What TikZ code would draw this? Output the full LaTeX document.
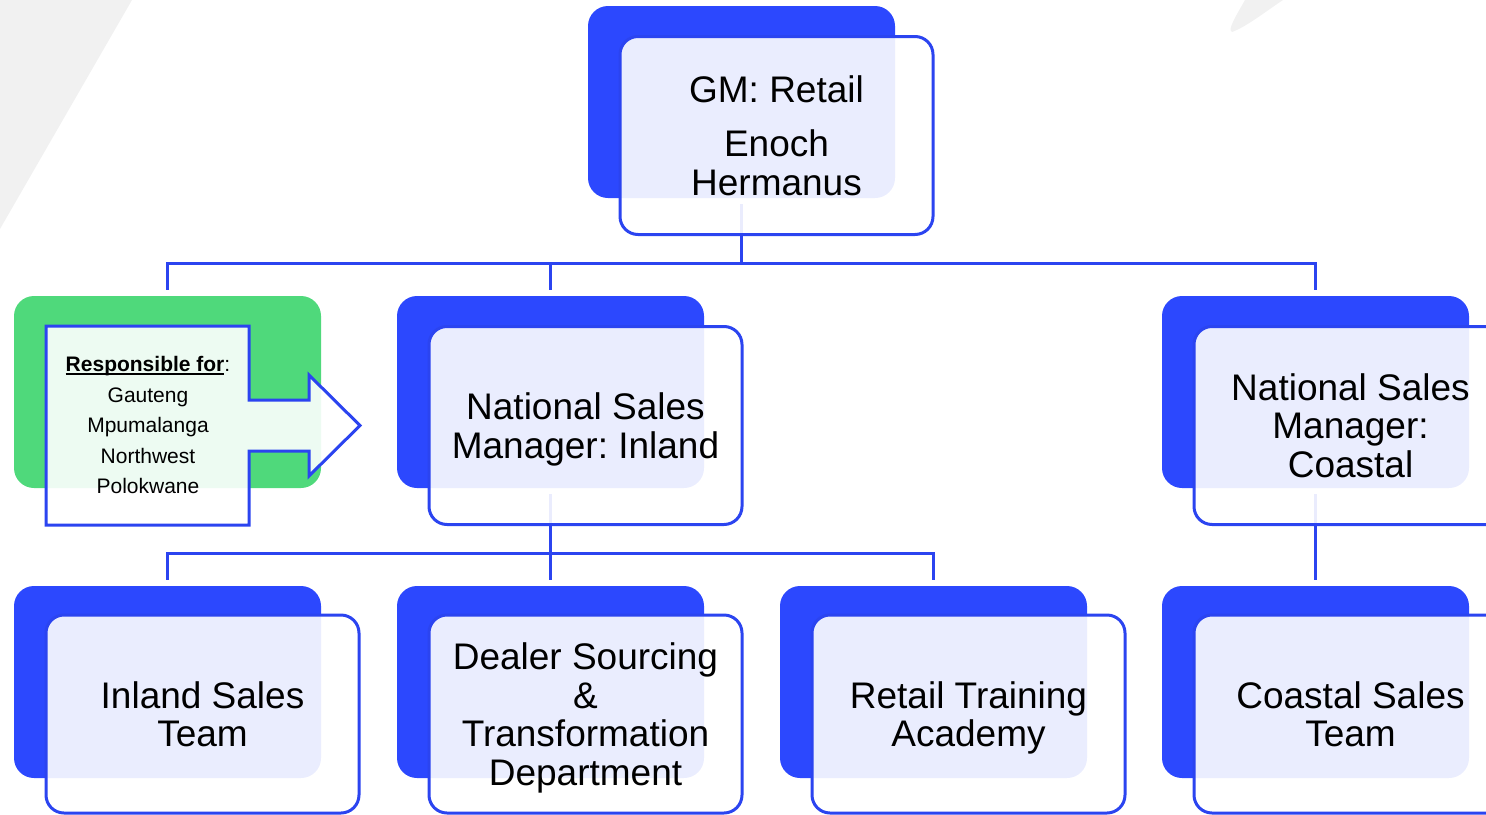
\documentclass[tikz,border=0pt]{standalone}
\usepackage{fontspec}
\setmainfont{Liberation Sans}
\frenchspacing
\definecolor{bblue}{HTML}{2C48FE}
\definecolor{lblue}{HTML}{2B44F0}
\definecolor{bgreen}{HTML}{4FD97B}
\definecolor{bggray}{HTML}{F1F1F1}
\newcommand\myul[1]{\setbox0\hbox{#1}\rlap{\rule[-3pt]{\wd0}{1.8pt}}\box0}
\tikzset{
  backbox/.style={rectangle, rounded corners=20pt, fill=bblue, minimum width=307pt, minimum height=192pt, inner sep=0pt},
  frontbox/.style={rectangle, rounded corners=18pt, draw=lblue, line width=3pt, fill=white, fill opacity=0.9, draw opacity=1, text opacity=1, minimum width=313pt, minimum height=198pt, align=center, inner sep=0pt, text depth=0pt, font=\fontsize{37}{38.5}\selectfont\frenchspacing},
  conn/.style={draw=lblue, line width=3pt, shorten <=6pt, shorten >=6pt},
  callout/.style={draw=lblue, line width=3pt, fill=white, fill opacity=0.9, draw opacity=1},
}
\begin{document}
\begin{tikzpicture}[x=1pt,y=-1pt]
\useasboundingbox (0,0) rectangle (1486,814);
\clip (0,0) rectangle (1486,814);
% background decoration
\fill[bggray] (0,0) -- (132,0) -- (0,229) -- cycle;
\fill[bggray] (1245,0) .. controls (1236,16) and (1227,30) .. (1232,32) .. controls (1246,27) and (1265,12) .. (1283,0) -- cycle;
% back boxes
\node[backbox] (gmb) at (741.5,102) {};
\node[backbox, fill=bgreen] (greenb) at (167.5,392) {};
\node[backbox] (nsmib) at (550.5,392) {};
\node[backbox] (nsmcb) at (1315.5,392) {};
\node[backbox] (inlandb) at (167.5,682) {};
\node[backbox] (dealerb) at (550.5,682) {};
\node[backbox] (trainb) at (933.5,682) {};
\node[backbox] (coastalb) at (1315.5,682) {};
% bus coordinates
\coordinate (bus1) at (741.5,263);
\coordinate (bus2) at (550.5,553);
% connectors
\draw[conn] (gmb.south) -- (gmb.south |- bus1) -| (greenb.north);
\draw[conn] (gmb.south) -- (gmb.south |- bus1) -| (nsmib.north);
\draw[conn] (gmb.south) -- (gmb.south |- bus1) -| (nsmcb.north);
\draw[conn] (nsmib.south) -- (nsmib.south |- bus2) -| (inlandb.north);
\draw[conn] (nsmib.south) -- (nsmib.south |- bus2) -| (dealerb.north);
\draw[conn] (nsmib.south) -- (nsmib.south |- bus2) -| (trainb.north);
\draw[conn] (nsmcb.south) -- (coastalb.north);
% front boxes
\node[frontbox] (gm) at (776.5,135.5) {GM: Retail\\[16pt]Enoch\\Hermanus};
\node[frontbox] (nsmi) at (585.5,425.5) {National Sales\\Manager: Inland};
\node[frontbox] (nsmc) at (1350.5,425.5) {National Sales\\Manager:\\Coastal};
\node[frontbox] (inland) at (202.5,714) {Inland Sales\\Team};
\node[frontbox] (dealer) at (585.5,714) {Dealer Sourcing\\\&\\Transformation\\Department};
\node[frontbox] (train) at (968.5,714) {Retail Training\\Academy};
\node[frontbox] (coastal) at (1350.5,714) {Coastal Sales\\Team};
% callout
\draw[callout] (46,326) -- (249,326) -- (249,400) -- (309,400) -- (309,375) -- (360,425.5) -- (309,476) -- (309,451) -- (249,451) -- (249,525) -- (46,525) -- cycle;
\node[align=center, font=\fontsize{21}{30.5}\selectfont] (resp) at (148,425) {\myul{\textbf{Responsible for}}:\\Gauteng\\Mpumalanga\\Northwest\\Polokwane};
\end{tikzpicture}
\end{document}
